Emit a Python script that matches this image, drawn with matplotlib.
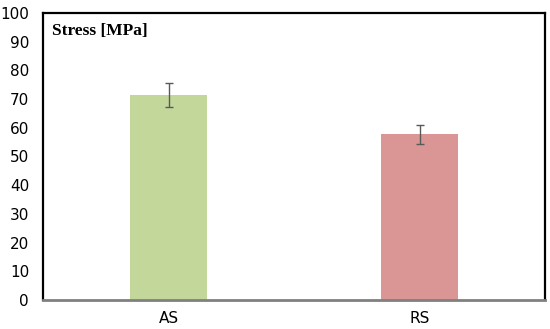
import matplotlib
matplotlib.use("Agg")
import matplotlib.pyplot as plt

categories = ["AS", "RS"]
values = [71.5, 57.8]
errors = [4.2, 3.3]
colors = ["#C4D79B", "#D99694"]
yticks = list(range(0, 101, 10))

fig = plt.figure(figsize=(5.5, 3.29), dpi=100)
ax = fig.add_axes([43/550, 1-300/329, (545-43)/550, (300-13)/329])
x = list(range(len(categories)))
ax.bar(x, values, width=0.31, color=colors, zorder=2)
ax.errorbar(x, values, yerr=errors, fmt="none", ecolor="#595959", elinewidth=1, capsize=3, capthick=1, zorder=3)
ax.set_xlim(-0.5, 1.5)
ax.set_ylim(0, 100)
ax.set_yticks(yticks)
ax.set_xticks(x)
ax.set_xticklabels(categories)
ax.tick_params(axis="both", length=0, labelsize=11, colors="black")
ax.tick_params(axis="y", pad=10)
ax.tick_params(axis="x", pad=8)
for s in ["left", "top", "right"]:
    ax.spines[s].set_color("black")
    ax.spines[s].set_linewidth(1.6)
ax.spines["bottom"].set_color("#808080")
ax.spines["bottom"].set_linewidth(2)
ax.text(0.018, 0.965, "Stress [MPa]", transform=ax.transAxes, ha="left", va="top",
        fontsize=12.5, fontweight="bold", family="Liberation Serif")
fig.savefig("out.png", dpi=100)
